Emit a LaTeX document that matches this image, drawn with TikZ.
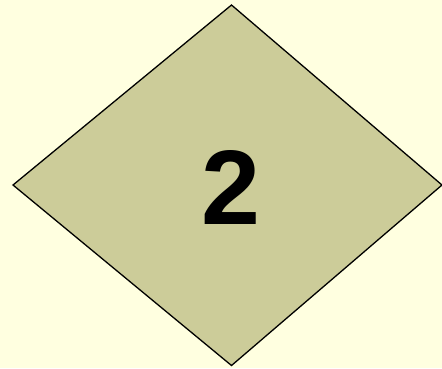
\documentclass[tikz,border=0pt]{standalone}
\usepackage{fontspec}
\setmainfont{Liberation Sans}
\definecolor{bgyellow}{HTML}{FFFFE0}
\definecolor{khaki}{HTML}{CCCC99}
\begin{document}
\begin{tikzpicture}[x=1pt,y=-1pt,
  diamondbox/.style={draw=black,line width=1.3pt,fill=khaki,line join=miter},
  digit/.style={font=\bfseries\fontsize{106}{110}\selectfont,text=black,inner sep=0pt}]
\fill[bgyellow] (0,0) rectangle (442,368);
\useasboundingbox (0,0) rectangle (442,368);
\coordinate (t) at (231.5,5);
\coordinate (l) at (13,185);
\coordinate (r) at (442,185);
\coordinate (b) at (231.5,365.5);
\draw[diamondbox] (t) -- (r) -- (b) -- (l) -- cycle;
\node[digit,anchor=base] (n) at (231,224) {2};
\end{tikzpicture}
\end{document}
